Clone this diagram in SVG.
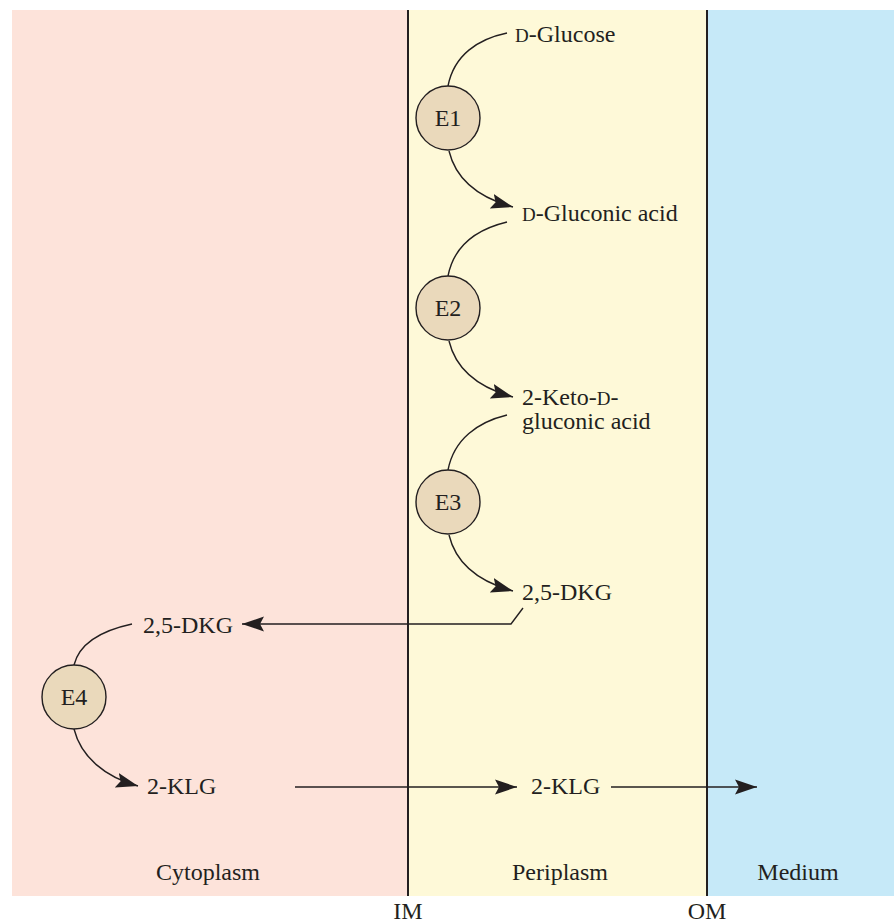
<svg xmlns="http://www.w3.org/2000/svg" width="894" height="924" viewBox="0 0 894 924">
<style>
text{font-family:"Liberation Serif","Times New Roman",serif;font-size:24px;fill:#231f20}
.sc{font-size:19px}
.mid{text-anchor:middle}
.enz{fill:#ead9bb;stroke:#231f20;stroke-width:1.4}
.ln{fill:none;stroke:#231f20;stroke-width:1.4}
.mem{stroke:#231f20;stroke-width:2}
</style>
<defs>
<marker id="ah" markerUnits="userSpaceOnUse" markerWidth="24" markerHeight="16" refX="22" refY="8" orient="auto">
<path d="M0,0.5 L22,8 L0,15.5 L4,8 Z" fill="#231f20"/>
</marker>
</defs>
<g id="compartments">
<rect x="12" y="10" width="396" height="886" fill="#fde3da"/>
<rect x="408" y="10" width="299" height="886" fill="#fef9d8"/>
<rect x="707" y="10" width="187" height="886" fill="#c6e9f8"/>
<line class="mem" x1="408" y1="10" x2="408" y2="896"/>
<line class="mem" x1="707" y1="10" x2="707" y2="896"/>
<text class="mid" x="208" y="880">Cytoplasm</text>
<text class="mid" x="560" y="880">Periplasm</text>
<text class="mid" x="798" y="880">Medium</text>
<text class="mid" x="408" y="919">IM</text>
<text class="mid" x="707" y="919">OM</text>
</g>
<g id="connectors">
<path class="ln" d="M448,86 C454,55 478,39 507,33"/>
<path class="ln" d="M449,151 C456,180 480,198 513,207" marker-end="url(#ah)"/>
<path class="ln" d="M448,276 C454,245 478,229 507,222"/>
<path class="ln" d="M449,341 C456,370 480,388 513,397" marker-end="url(#ah)"/>
<path class="ln" d="M448,470 C454,439 478,422 507,415"/>
<path class="ln" d="M449,535 C456,564 480,582 513,591" marker-end="url(#ah)"/>
<path class="ln" d="M523,608 L511,624 L242,624" marker-end="url(#ah)"/>
<path class="ln" d="M74,665 C80,641 104,630 132,624"/>
<path class="ln" d="M74,729 C81,757 105,777 138,786" marker-end="url(#ah)"/>
<path class="ln" d="M295,787 L517,787" marker-end="url(#ah)"/>
<path class="ln" d="M611,787 L757,787" marker-end="url(#ah)"/>
</g>
<g id="dglucose"><text x="515" y="42"><tspan class="sc">D</tspan>-Glucose</text></g>
<g id="dgluconic"><text x="522" y="221"><tspan class="sc">D</tspan>-Gluconic acid</text></g>
<g id="ketogluconic"><text x="522" y="405">2-Keto-<tspan class="sc">D</tspan>-</text><text x="522" y="429">gluconic acid</text></g>
<g id="dkg-peri"><text x="522" y="600">2,5-DKG</text></g>
<g id="dkg-cyto"><text x="143" y="633">2,5-DKG</text></g>
<g id="klg-cyto"><text x="147" y="794">2-KLG</text></g>
<g id="klg-peri"><text x="531" y="794">2-KLG</text></g>
<g id="E1"><circle class="enz" cx="448" cy="118" r="32"/><text class="mid" x="448" y="126">E1</text></g>
<g id="E2"><circle class="enz" cx="448" cy="308" r="32"/><text class="mid" x="448" y="316">E2</text></g>
<g id="E3"><circle class="enz" cx="448" cy="502" r="32"/><text class="mid" x="448" y="510">E3</text></g>
<g id="E4"><circle class="enz" cx="74" cy="697" r="32"/><text class="mid" x="74" y="705">E4</text></g>
</svg>
